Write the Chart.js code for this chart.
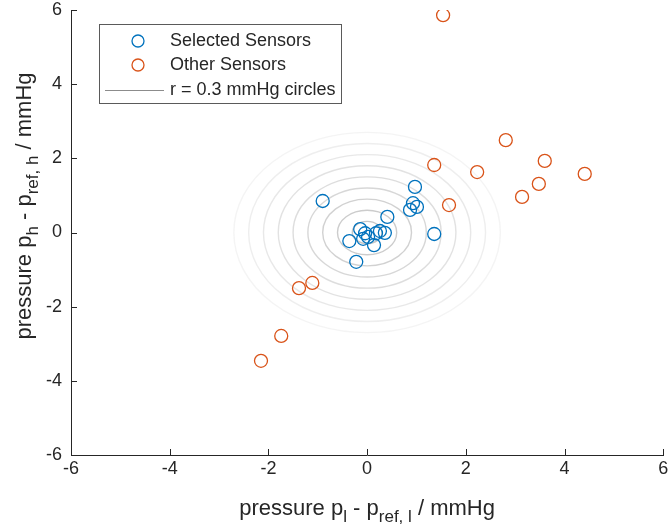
<!DOCTYPE html>
<html>
<head>
<meta charset="utf-8">
<script src="https://cdn.jsdelivr.net/npm/chart.js@4.4.1/dist/chart.umd.min.js"></script>
<style>
  html, body { margin: 0; padding: 0; background: #fff; }
</style>
</head>
<body>
<canvas id="chart" width="671" height="531"></canvas>
<script>
"use strict";

// sensor offsets (mmHg)
const selectedX = [0.97, 0.93, 1.01, 0.87, 0.41, 1.36, -0.36, -0.22, -0.14, -0.04, 0.02, 0.14, 0.18, 0.26, 0.36, -0.08, -0.90];
const selectedY = [1.23, 0.79, 0.69, 0.61, 0.42, -0.04, -0.23, -0.79, 0.09, -0.02, -0.12, -0.34, -0.02, 0.04, -0.01, -0.17, 0.85];

const otherX = [1.54, 2.81, 1.36, 2.23, 3.60, 3.48, 3.14, 4.41, 1.66, -1.11, -1.38, -1.74, -2.15];
const otherY = [5.86, 2.49, 1.82, 1.63, 1.93, 1.31, 0.96, 1.58, 0.74, -1.36, -1.50, -2.79, -3.46];

// r = 0.3 mmHg circles
const ringRadii = [0.3, 0.6, 0.9, 1.2, 1.5, 1.8, 2.1, 2.4, 2.7];

const tickValues = [-6, -4, -2, 0, 2, 4, 6];

const legendLabels = ["Selected Sensors", "Other Sensors", "r = 0.3 mmHg circles"];

const BLUE = "#0072BD";
const ORANGE = "#D95319";
const AXIS = "#262626";
const FONT = "'Liberation Sans', Arial, sans-serif";

function toPoints(xs, ys) {
  return xs.map((v, i) => ({x: v, y: ys[i]}));
}

// draw text with subscripts, centred on x
function drawRich(ctx, parts, x, y, size) {
  const subSize = Math.round(size * 0.78);
  let w = 0;
  parts.forEach(p => {
    ctx.font = (p.sub ? subSize : size) + "px " + FONT;
    p.w = ctx.measureText(p.t).width;
    w += p.w;
  });
  let cx = x - w / 2;
  parts.forEach(p => {
    ctx.font = (p.sub ? subSize : size) + "px " + FONT;
    ctx.fillText(p.t, cx, p.sub ? y + size * 0.3 : y);
    cx += p.w;
  });
}

const matlabLook = {
  id: "matlabLook",
  beforeDatasetsDraw(chart) {
    const {ctx, scales: {x, y}} = chart;
    const cx = x.getPixelForValue(0), cy = y.getPixelForValue(0);
    ctx.save();
    ringRadii.forEach((r, i) => {
      const rx = x.getPixelForValue(r) - cx;
      const ry = cy - y.getPixelForValue(r);
      ctx.strokeStyle = "rgba(120,120,120," + (0.42 - i * 0.042) + ")";
      ctx.lineWidth = 1.4;
      ctx.beginPath();
      ctx.ellipse(cx, cy, rx, ry, 0, 0, Math.PI * 2);
      ctx.stroke();
    });
    ctx.restore();
  },
  afterDraw(chart) {
    const {ctx, chartArea: area, scales: {x, y}} = chart;
    ctx.save();

    // inward tick marks
    ctx.strokeStyle = AXIS;
    ctx.lineWidth = 1;
    ctx.beginPath();
    tickValues.forEach(v => {
      const px = Math.round(x.getPixelForValue(v)) + 0.5;
      ctx.moveTo(px, area.bottom);
      ctx.lineTo(px, area.bottom - 6);
      const py = Math.round(y.getPixelForValue(v)) + 0.5;
      ctx.moveTo(area.left, py);
      ctx.lineTo(area.left + 6, py);
    });
    ctx.stroke();

    // axis titles
    ctx.fillStyle = AXIS;
    ctx.textBaseline = "alphabetic";
    ctx.textAlign = "left";
    drawRich(ctx, [
      {t: "pressure p"}, {t: "l", sub: true}, {t: " - p"}, {t: "ref, l", sub: true}, {t: " / mmHg"}
    ], (area.left + area.right) / 2, 515, 22);

    ctx.save();
    ctx.translate(31, 206);
    ctx.rotate(-Math.PI / 2);
    drawRich(ctx, [
      {t: "pressure p"}, {t: "h", sub: true}, {t: " - p"}, {t: "ref, h", sub: true}, {t: " / mmHg"}
    ], 0, 0, 22);
    ctx.restore();

    // legend box
    const bx = 99, by = 24, bw = 242, bh = 79;
    ctx.fillStyle = "#fff";
    ctx.fillRect(bx, by, bw, bh);
    ctx.strokeStyle = "#5a5a5a";
    ctx.lineWidth = 1;
    ctx.strokeRect(bx + 0.5, by + 0.5, bw, bh);

    const rows = [41, 65, 90];
    ctx.lineWidth = 1.3;
    ctx.strokeStyle = BLUE;
    ctx.beginPath(); ctx.arc(138, rows[0], 6, 0, Math.PI * 2); ctx.stroke();
    ctx.strokeStyle = ORANGE;
    ctx.beginPath(); ctx.arc(138, rows[1], 6, 0, Math.PI * 2); ctx.stroke();
    ctx.strokeStyle = "#8c8c8c";
    ctx.lineWidth = 1;
    ctx.beginPath(); ctx.moveTo(105, rows[2] + 0.5); ctx.lineTo(164, rows[2] + 0.5); ctx.stroke();

    ctx.fillStyle = AXIS;
    ctx.font = "18px " + FONT;
    ctx.textBaseline = "middle";
    legendLabels.forEach((t, i) => ctx.fillText(t, 170, rows[i]));

    ctx.restore();
  }
};

function axisOptions(isX) {
  return {
    type: "linear",
    min: -6,
    max: 6,
    afterBuildTicks(scale) { scale.ticks = tickValues.map(v => ({value: v})); },
    ticks: {
      color: AXIS,
      font: {size: 18, family: FONT},
      padding: isX ? 3 : 9
    },
    grid: {display: false, drawTicks: false},
    border: {display: true, color: AXIS, width: 1},
    afterFit(scale) {
      // fixed axis sizes, no extra room for overhanging end labels
      if (isX) {
        scale.height = 76;
        scale.paddingLeft = 0;
        scale.paddingRight = 0;
      } else {
        scale.width = 71;
        scale.paddingTop = 0;
        scale.paddingBottom = 0;
      }
    }
  };
}

new Chart("chart", {
  type: "scatter",
  data: {
    datasets: [
      {
        label: legendLabels[0],
        data: toPoints(selectedX, selectedY),
        borderColor: BLUE,
        backgroundColor: "rgba(0,0,0,0)",
        pointRadius: 6.5,
        borderWidth: 1.3
      },
      {
        label: legendLabels[1],
        data: toPoints(otherX, otherY),
        borderColor: ORANGE,
        backgroundColor: "rgba(0,0,0,0)",
        pointRadius: 6.5,
        borderWidth: 1.3
      }
    ]
  },
  options: {
    responsive: false,
    animation: false,
    layout: {padding: {top: 10, right: 6, left: 0, bottom: 0}},
    plugins: {legend: {display: false}, tooltip: {enabled: false}},
    scales: {x: axisOptions(true), y: axisOptions(false)}
  },
  plugins: [matlabLook]
});
</script>
</body>
</html>
